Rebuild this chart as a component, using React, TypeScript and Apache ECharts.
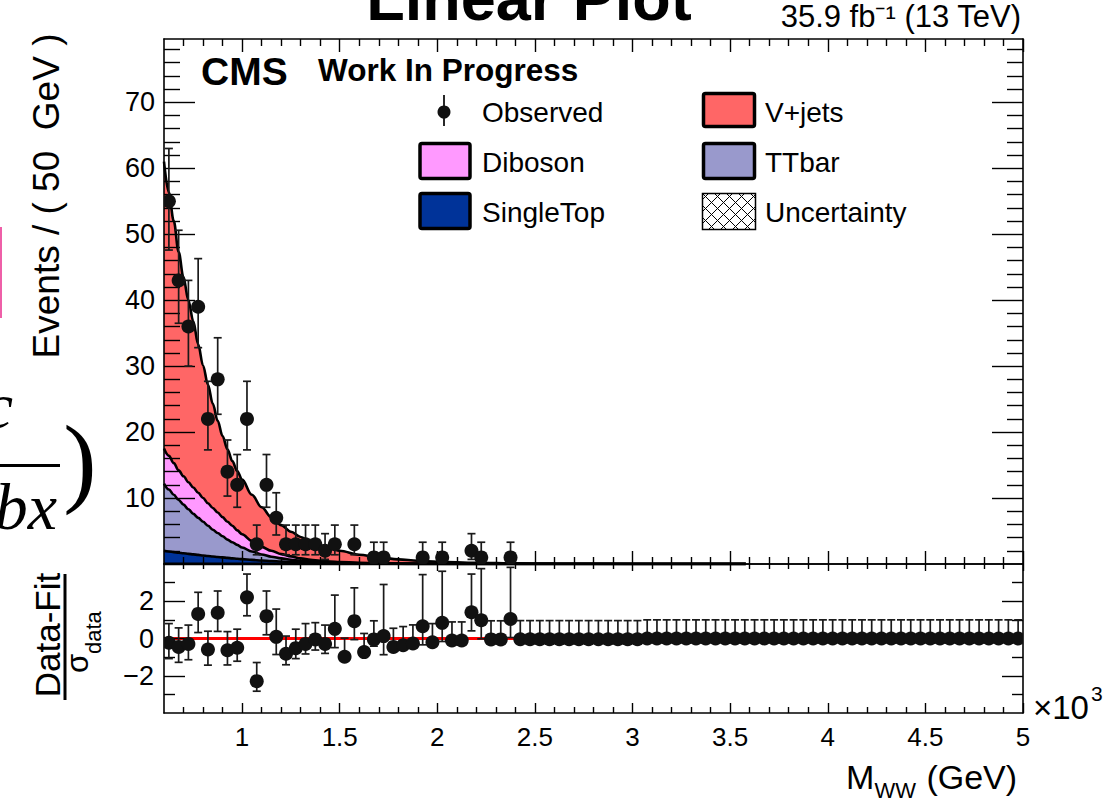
import React, { useEffect, useRef } from 'react';
import * as echarts from 'echarts';

const FONT = "'Liberation Sans', Arial, Helvetica, sans-serif";
const SERIF = "'Liberation Serif', 'DejaVu Serif', 'Times New Roman', serif";

// ---------- binning ----------
const BIN_LOW = 600;
const BIN_WIDTH = 50;
const X_MIN = 600;
const X_MAX = 5000;

// ---------- observed counts per 50 GeV bin (600 - 5000 GeV) ----------
const observed = [
  55, 43, 36, 39, 22, 28, 14, 12, 22, 3,
  12, 7, 3, 3, 3, 3, 2, 3, 0, 3,
  0, 1, 1, 0, 0, 0, 1, 0, 1, 0,
  0, 2, 1, 0, 0, 1, 0, 0, 0, 0,
  0, 0, 0, 0, 0, 0, 0, 0, 0, 0,
  0, 0, 0, 0, 0, 0, 0, 0, 0, 0,
  0, 0, 0, 0, 0, 0, 0, 0, 0, 0,
  0, 0, 0, 0, 0, 0, 0, 0, 0, 0,
  0, 0, 0, 0, 0, 0, 0, 0,
];
const observedErrLow = [
  7.4, 6.5, 6.0, 6.2, 4.7, 5.3, 3.7, 3.4, 4.7, 1.6,
  3.4, 2.6, 1.6, 1.6, 1.6, 1.6, 1.3, 1.6, 0, 1.6,
  0, 0.8, 0.8, 0, 0, 0, 0.8, 0, 0.8, 0,
  0, 1.3, 0.8, 0, 0, 0.8,
];
const observedErrHigh = [
  8.0, 7.6, 7.0, 7.3, 5.7, 6.3, 4.8, 4.6, 5.7, 2.9,
  4.6, 3.8, 2.9, 2.9, 2.9, 2.9, 2.6, 2.9, 0, 2.9,
  0, 2.3, 2.3, 0, 0, 0, 2.3, 0, 2.3, 0,
  0, 2.6, 2.3, 0, 0, 2.3,
];

// ---------- pulls (Data-Fit)/sigma per bin ----------
const pulls = [
  -0.23, -0.45, -0.29, 1.32, -0.59, 1.38, -0.63, -0.5, 2.21, -2.29,
  1.2, 0.09, -0.82, -0.52, -0.29, -0.05, -0.29, 0.52, -0.98, 0.93,
  -0.73, -0.05, 0.13, -0.45, -0.36, -0.27, 0.66, -0.2, 0.84, -0.11,
  -0.11, 1.41, 0.98, -0.05, -0.05, 1.05, -0.04, -0.04, -0.04, -0.04,
  -0.04, -0.04, -0.04, -0.04, -0.04, -0.04, -0.04, -0.04, -0.04, 0,
  0, 0, 0, 0, 0, 0, 0, 0, 0, 0,
  0, 0, 0, 0, 0, 0, 0, 0, 0, 0,
  0, 0, 0, 0, 0, 0, 0, 0, 0, 0,
  0, 0, 0, 0, 0, 0, 0, 0,
];
const pullErrLow = [
  0.85, 0.83, 0.85, 1.0, 0.84, 1.0, 0.79, 0.72, 0.99, 0.54,
  1.0, 0.95, 0.59, 0.56, 0.54, 0.57, 0.51, 1.01, 0, 0.99,
  0, 0.36, 1.0, 0, 0, 0, 1.0, 0, 1.0, 0,
  0, 1.0, 1.0, 0, 0, 1.0, 0, 0, 0, 0,
  0, 0, 0, 0, 0, 0, 0, 0, 0, 0,
  0, 0, 0, 0, 0, 0, 0, 0, 0, 0,
  0, 0, 0, 0, 0, 0, 0, 0, 0, 0,
  0, 0, 0, 0, 0, 0, 0, 0, 0, 0,
  0, 0, 0, 0, 0, 0, 0, 0,
];
const pullErrHigh = [
  1.03, 1.02, 1.01, 1.16, 0.98, 1.17, 1.0, 1.0, 1.25, 1.0,
  1.35, 1.49, 0.95, 1.02, 1.09, 0.9, 1.01, 1.81, 1.0, 1.79,
  1.0, 1.0, 2.77, 1, 1, 1, 2.77, 1, 2.77, 1,
  1, 2.05, 2.77, 1, 1, 2.77, 1, 1, 1, 1,
  1, 1, 1, 1, 1, 1, 1, 1, 1, 1,
  1, 1, 1, 1, 1, 1, 1, 1, 1, 1,
  1, 1, 1, 1, 1, 1, 1, 1, 1, 1,
  1, 1, 1, 1, 1, 1, 1, 1, 1, 1,
  1, 1, 1, 1, 1, 1, 1, 1,
];

// ---------- fitted background shapes (cumulative stack tops, events / 50 GeV) ----------
const curveX = [
  600, 625, 650, 675, 700, 725, 750, 775, 800, 825,
  850, 875, 900, 925, 950, 975, 1000, 1050, 1100, 1150,
  1200, 1250, 1300, 1350, 1400, 1450, 1500, 1600, 1700, 1800,
  1900, 2000, 2200, 2400, 2600, 3000, 3580,
];
const vjetsTop = [
  61, 56.3, 52.0, 47.3, 43.4, 40.0, 36.8, 33.3, 30.1, 27.2,
  24.3, 21.7, 19.4, 17.4, 15.6, 14.1, 12.8, 10.5, 8.6, 7.1,
  5.9, 4.9, 4.1, 3.4, 2.85, 2.4, 2.0, 1.4, 1.0, 0.7,
  0.5, 0.35, 0.18, 0.09, 0.05, 0.01, 0,
];
const dibosonTop = [
  17.5, 16.4, 15.3, 14.2, 13.3, 12.4, 11.6, 10.8, 10.0, 9.2,
  8.5, 7.8, 7.1, 6.4, 5.8, 5.1, 4.5, 3.5, 2.6, 2.0,
  1.5, 1.15, 0.85, 0.65, 0.5, 0.38, 0.3, 0.18, 0.11, 0.07,
  0.04, 0.03, 0.01, 0.005, 0, 0, 0,
];
const ttbarTop = [
  12.2, 11.3, 10.5, 9.7, 9.0, 8.3, 7.6, 7.0, 6.4, 5.8,
  5.2, 4.7, 4.2, 3.7, 3.3, 2.9, 2.5, 1.9, 1.45, 1.1,
  0.85, 0.65, 0.5, 0.38, 0.28, 0.2, 0.15, 0.09, 0.05, 0.03,
  0.02, 0.01, 0, 0, 0, 0, 0,
];
const singleTopTop = [
  2.0, 1.9, 1.8, 1.7, 1.62, 1.54, 1.46, 1.38, 1.3, 1.22,
  1.14, 1.07, 1.0, 0.93, 0.86, 0.8, 0.74, 0.63, 0.53, 0.45,
  0.38, 0.32, 0.27, 0.22, 0.18, 0.15, 0.12, 0.08, 0.05, 0.03,
  0.02, 0.01, 0, 0, 0, 0, 0,
];

// ---------- ticks and labels ----------
const xMajorTicks = [1000, 1500, 2000, 2500, 3000, 3500, 4000, 4500, 5000];
const xTickLabels = ['1', '1.5', '2', '2.5', '3', '3.5', '4', '4.5', '5'];
const yMajorTicks = [10, 20, 30, 40, 50, 60, 70];
const yTickLabels = ['10', '20', '30', '40', '50', '60', '70'];
const rMajorTicks = [-2, 0, 2];
const rTickLabels = ['\u22122', '0', '2'];
const rMinorTicks = [-3, -1, 1, 3];

const xMinorTicks: number[] = [];
for (let v = 700; v < 5000; v += 100) if (v % 500 !== 0) xMinorTicks.push(v);
const yMinorTicks: number[] = [];
for (let v = 2; v < 80; v += 2) if (v % 10 !== 0) yMinorTicks.push(v);

const Y_MAX = 79.6;

const C_VJETS = '#ff6666';
const C_DIBOSON = '#ff99ff';
const C_TTBAR = '#9999cc';
const C_SINGLETOP = '#003399';

function makeAxis(
  gridIndex: number,
  position: string,
  min: number,
  max: number,
  ticks: number[],
  len: number,
  showLine: boolean,
  labels?: { values: number[]; texts: string[]; margin: number; size: number }
) {
  return {
    type: 'value',
    gridIndex,
    position,
    min,
    max,
    z: 5,
    axisLine: { show: showLine, onZero: false, lineStyle: { color: '#000', width: 1.6 } },
    axisTick: {
      show: true,
      inside: true,
      length: len,
      customValues: ticks,
      lineStyle: { color: '#000', width: 1.4 },
    },
    axisLabel: labels
      ? {
          show: true,
          customValues: labels.values,
          formatter: (v: number) => {
            const i = labels.values.indexOf(v);
            return i >= 0 ? labels.texts[i] : '';
          },
          fontSize: labels.size,
          fontFamily: FONT,
          color: '#000',
          margin: labels.margin,
        }
      : { show: false },
    splitLine: { show: false },
    minorTick: { show: false },
  };
}

function errorGlyph(api: any, r: number) {
  const x = api.value(0);
  const y = api.value(1);
  const lo = api.value(2);
  const hi = api.value(3);
  const p = api.coord([x, y]);
  const pL = api.coord([x, y - lo]);
  const pH = api.coord([x, y + hi]);
  const s = { stroke: '#1a1a1a', lineWidth: 1.7 };
  return {
    type: 'group',
    children: [
      { type: 'line', shape: { x1: p[0], y1: pH[1], x2: p[0], y2: pL[1] }, style: s },
      { type: 'line', shape: { x1: p[0] - 4, y1: pH[1], x2: p[0] + 4, y2: pH[1] }, style: s },
      { type: 'line', shape: { x1: p[0] - 4, y1: pL[1], x2: p[0] + 4, y2: pL[1] }, style: s },
      { type: 'circle', shape: { cx: p[0], cy: p[1], r }, style: { fill: '#111' } },
    ],
  };
}

function hatch(x0: number, y0: number, w: number, h: number, step: number) {
  const out: any[] = [];
  const st = { stroke: '#000', lineWidth: 1 };
  for (let k = -h; k < w; k += step) {
    const vs = Math.max(0, -k);
    const ve = Math.min(h, w - k);
    if (ve > vs) out.push({ type: 'line', shape: { x1: x0 + vs + k, y1: y0 + vs, x2: x0 + ve + k, y2: y0 + ve }, style: st, z: 20 });
  }
  for (let k = step / 2; k < w + h; k += step) {
    const us = Math.max(0, k - h);
    const ue = Math.min(w, k);
    if (ue > us) out.push({ type: 'line', shape: { x1: x0 + us, y1: y0 + k - us, x2: x0 + ue, y2: y0 + k - ue }, style: st, z: 20 });
  }
  return out;
}

function txt(x: number, y: number, text: string, size: number, extra: any = {}, rotation = 0) {
  return {
    type: 'text',
    x,
    y,
    z: 30,
    rotation,
    style: {
      text,
      fontSize: size,
      fontFamily: FONT,
      fill: '#000',
      align: 'left',
      verticalAlign: 'middle',
      ...extra,
    },
  };
}

function buildOption() {
  const centers = observed.map((_, i) => BIN_LOW + BIN_WIDTH * (i + 0.5));
  const mainPoints: number[][] = [];
  observed.forEach((n, i) => {
    if (n > 0) mainPoints.push([centers[i], n, observedErrLow[i], observedErrHigh[i]]);
  });
  const pullPoints = pulls.map((p, i) => [centers[i], p, pullErrLow[i], pullErrHigh[i]]);

  const area = (name: string, tops: number[], color: string) => ({
    name,
    type: 'line',
    xAxisIndex: 0,
    yAxisIndex: 0,
    data: curveX.map((x, i) => [x, tops[i]]),
    symbol: 'none',
    showSymbol: false,
    smooth: 0.35,
    smoothMonotone: 'x',
    lineStyle: { color: '#000', width: 2.6 },
    areaStyle: { color, opacity: 1 },
    z: 2,
    silent: true,
  });

  const legendBox = (x: number, y: number, w: number, h: number, fill: string) => ({
    type: 'rect',
    shape: { x, y, width: w, height: h, r: 2 },
    style: { fill, stroke: '#000', lineWidth: 3.5 },
    z: 20,
  });

  const graphic: any[] = [
    // remnants of the slide at the left edge
    { type: 'rect', shape: { x: 0, y: 227, width: 2, height: 91 }, style: { fill: '#ee5fa8' }, z: 1 },
    txt(13, 405, 'c', 66, { align: 'right', fontFamily: SERIF, fontStyle: 'italic' }),
    { type: 'rect', shape: { x: 0, y: 464, width: 60, height: 3 }, style: { fill: '#000' }, z: 1 },
    txt(57, 506, 'bx', 66, { align: 'right', fontFamily: SERIF, fontStyle: 'italic' }),
    txt(80, 460, ')', 100, { align: 'center', fontFamily: SERIF }),

    // title and header texts
    txt(529, -2, 'Linear Plot', 63, { align: 'center', fontWeight: 'bold' }),
    txt(1021, 16, '35.9 fb\u207B\u00B9 (13 TeV)', 31, { align: 'right' }),
    txt(201, 71, 'CMS', 39, { fontWeight: 'bold' }),
    txt(318, 70, 'Work In Progress', 31.5, { fontWeight: 'bold' }),

    // axis titles
    txt(46, 196, 'Events / ( 50  GeV )', 37, { align: 'center' }, Math.PI / 2),
    txt(846, 777, 'M', 34),
    txt(874.5, 790, 'WW', 22),
    txt(917, 777, ' (GeV)', 34),
    txt(1033, 707, '\u00D710', 33),
    txt(1091, 693, '3', 21),

    // ratio y title
    {
      type: 'group',
      x: 65,
      y: 637,
      rotation: Math.PI / 2,
      z: 30,
      children: [
        { type: 'line', shape: { x1: -63, y1: 0, x2: 63, y2: 0 }, style: { stroke: '#000', lineWidth: 3 } },
        txt(2, -18, 'Data-Fit', 35, { align: 'center' }),
        txt(-36, 12, '\u03C3', 31),
        txt(-17, 28, 'data', 22),
      ],
    },

    // legend
    { type: 'line', shape: { x1: 444, y1: 95, x2: 444, y2: 126 }, style: { stroke: '#111', lineWidth: 1.8 }, z: 20 },
    { type: 'circle', shape: { cx: 444, cy: 112, r: 6.5 }, style: { fill: '#111' }, z: 20 },
    txt(482, 112, 'Observed', 28),
    legendBox(420, 143.5, 50, 35, C_DIBOSON),
    txt(482, 162, 'Diboson', 28),
    legendBox(420, 193.5, 50, 35, C_SINGLETOP),
    txt(482, 212, 'SingleTop', 28),
    legendBox(703.5, 93.5, 51, 33, C_VJETS),
    txt(765, 112, 'V+jets', 28),
    legendBox(703.5, 143.5, 51, 35, C_TTBAR),
    txt(765, 162, 'TTbar', 28),
    { type: 'rect', shape: { x: 702.5, y: 193.5, width: 53, height: 36 }, style: { fill: '#fff', stroke: '#000', lineWidth: 1.5 }, z: 19 },
    ...hatch(702.5, 193.5, 53, 36, 12),
    txt(765, 212, 'Uncertainty', 28),
  ];

  return {
    animation: false,
    backgroundColor: '#fff',
    grid: [
      { left: 164, top: 39, width: 859, height: 525, show: false },
      { left: 164, top: 564, width: 859, height: 149, show: false },
    ],
    xAxis: [
      makeAxis(0, 'bottom', X_MIN, X_MAX, xMajorTicks, 13, true),
      makeAxis(0, 'bottom', X_MIN, X_MAX, xMinorTicks, 7, false),
      makeAxis(0, 'top', X_MIN, X_MAX, xMajorTicks, 13, true),
      makeAxis(0, 'top', X_MIN, X_MAX, xMinorTicks, 7, false),
      makeAxis(1, 'bottom', X_MIN, X_MAX, xMajorTicks, 10, true, { values: xMajorTicks, texts: xTickLabels, margin: 11, size: 26 }),
      makeAxis(1, 'bottom', X_MIN, X_MAX, xMinorTicks, 6, false),
      makeAxis(1, 'top', X_MIN, X_MAX, xMajorTicks, 7, true),
      makeAxis(1, 'top', X_MIN, X_MAX, xMinorTicks, 5, false),
    ],
    yAxis: [
      makeAxis(0, 'left', 0, Y_MAX, yMajorTicks, 31, true, { values: yMajorTicks, texts: yTickLabels, margin: 9, size: 27 }),
      makeAxis(0, 'left', 0, Y_MAX, yMinorTicks, 16, false),
      makeAxis(0, 'right', 0, Y_MAX, yMajorTicks, 31, true),
      makeAxis(0, 'right', 0, Y_MAX, yMinorTicks, 16, false),
      makeAxis(1, 'left', -4, 4, rMajorTicks, 21, true, { values: rMajorTicks, texts: rTickLabels, margin: 10, size: 27 }),
      makeAxis(1, 'left', -4, 4, rMinorTicks, 11, false),
      makeAxis(1, 'right', -4, 4, rMajorTicks, 21, true),
      makeAxis(1, 'right', -4, 4, rMinorTicks, 11, false),
    ],
    series: [
      area('V+jets', vjetsTop, C_VJETS),
      area('Diboson', dibosonTop, C_DIBOSON),
      area('TTbar', ttbarTop, C_TTBAR),
      area('SingleTop', singleTopTop, C_SINGLETOP),
      {
        type: 'line',
        xAxisIndex: 0,
        yAxisIndex: 0,
        data: [
          [curveX[0], 0],
          [curveX[curveX.length - 1], 0],
        ],
        symbol: 'none',
        lineStyle: { color: '#000', width: 3 },
        z: 3,
        silent: true,
      },
      {
        type: 'custom',
        name: 'Observed',
        xAxisIndex: 0,
        yAxisIndex: 0,
        data: mainPoints,
        encode: { x: 0, y: 1 },
        clip: true,
        z: 6,
        renderItem: (_p: any, api: any) => errorGlyph(api, 7),
      },
      {
        type: 'line',
        xAxisIndex: 4,
        yAxisIndex: 4,
        data: [
          [X_MIN, 0],
          [X_MAX, 0],
        ],
        symbol: 'none',
        lineStyle: { color: '#ff0000', width: 3 },
        z: 3,
        silent: true,
      },
      {
        type: 'custom',
        name: 'Pull',
        xAxisIndex: 4,
        yAxisIndex: 4,
        data: pullPoints,
        encode: { x: 0, y: 1 },
        clip: true,
        z: 6,
        renderItem: (_p: any, api: any) => errorGlyph(api, 7),
      },
    ],
    graphic,
  };
}

export default function App() {
  const ref = useRef<HTMLDivElement>(null);
  useEffect(() => {
    const chart = echarts.init(ref.current as HTMLDivElement, null, { renderer: 'svg' });
    chart.setOption(buildOption() as any);
    return () => chart.dispose();
  }, []);
  return (
    <div
      ref={ref}
      style={{ position: 'fixed', left: 0, top: 0, width: 1118, height: 803, background: '#fff' }}
    />
  );
}
